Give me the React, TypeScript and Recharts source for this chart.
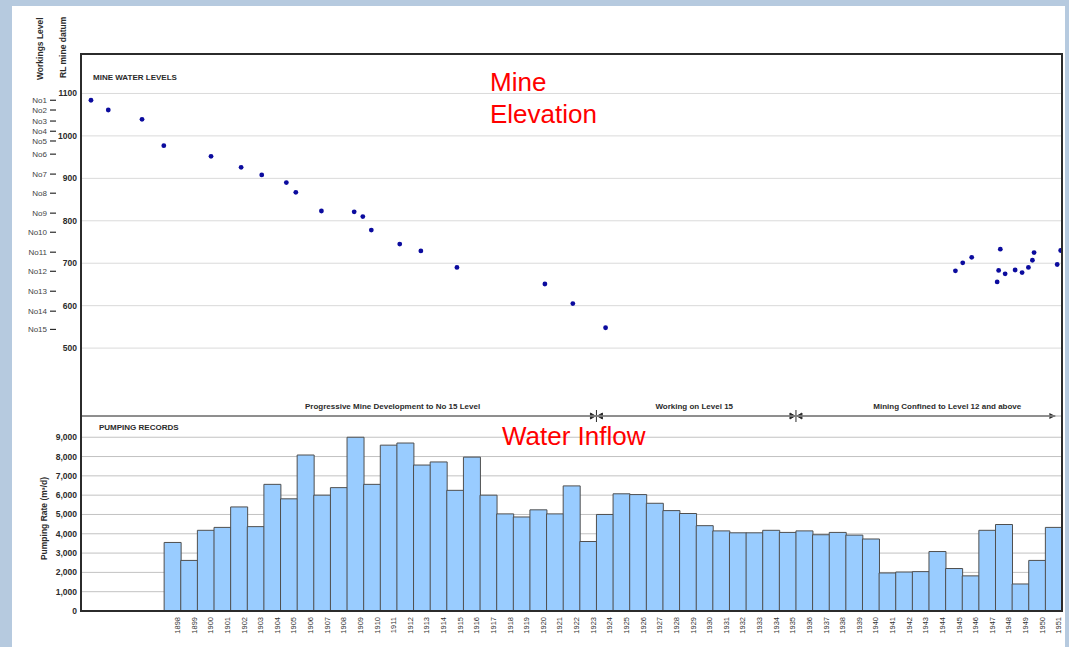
import React from 'react'
import {
  Bar,
  BarChart,
  CartesianGrid,
  ReferenceDot,
  ReferenceLine,
  Scatter,
  ScatterChart,
  XAxis,
  YAxis,
} from 'recharts'

// --- mine water levels (decimal year, RL mine datum) ---
const levelYears = [
  1893.6, 1894.64, 1896.67, 1897.98, 1900.82, 1902.63, 1903.87, 1905.35, 1905.92, 1907.46,
  1909.43, 1909.95, 1910.46, 1912.17, 1913.44, 1915.61, 1920.9, 1922.58, 1924.55,
  1945.59, 1946.03, 1946.57, 1948.1, 1948.19, 1948.29, 1948.58, 1949.18, 1949.6, 1949.98,
  1950.22, 1950.32, 1951.71, 1951.92,
]
const levelRL = [
  1084, 1061, 1039, 977, 952, 926, 908, 890, 867, 823,
  821, 810, 778, 745, 729, 690, 651, 605, 548,
  682, 701, 714, 656, 683, 733, 675, 684, 678, 690,
  707, 725, 697, 730,
]
const rlTicks = [500, 600, 700, 800, 900, 1000, 1100]

// workings levels and their RL
const workingLevels = ['No1', 'No2', 'No3', 'No4', 'No5', 'No6', 'No7', 'No8', 'No9', 'No10', 'No11', 'No12', 'No13', 'No14', 'No15']
const workingLevelRL = [1084, 1061, 1035, 1011, 988, 957, 910, 865, 818, 773, 726, 681, 634, 587, 544]

// mining phases
const phaseBreaks = [1924, 1936]
const phaseEnd = 1951.6
const phaseLabels = ['Progressive Mine Development to No 15 Level', 'Working on Level 15', 'Mining Confined to Level 12 and above']
const phaseLabelYears = [1911.74, 1929.88, 1945.1]

// --- pumping records (m3/d) ---
const emptyYears = [1893, 1894, 1895, 1896, 1897]
const recordYears = [
  1898, 1899, 1900, 1901, 1902, 1903, 1904, 1905, 1906, 1907, 1908, 1909, 1910, 1911, 1912,
  1913, 1914, 1915, 1916, 1917, 1918, 1919, 1920, 1921, 1922, 1923, 1924, 1925, 1926, 1927,
  1928, 1929, 1930, 1931, 1932, 1933, 1934, 1935, 1936, 1937, 1938, 1939, 1940, 1941, 1942,
  1943, 1944, 1945, 1946, 1947, 1948, 1949, 1950, 1951,
]
const pumpingRates = [
  3550, 2620, 4180, 4330, 5390, 4370, 6560, 5810, 8080, 6000, 6390, 9000, 6560, 8590, 8700,
  7560, 7720, 6250, 7970, 6000, 5030, 4870, 5240, 5030, 6480, 3600, 5000, 6070, 6030, 5580,
  5200, 5050, 4420, 4150, 4050, 4050, 4180, 4070, 4150, 3950, 4070, 3930, 3730, 1970, 2020,
  2040, 3080, 2200, 1820, 4180, 4480, 1400, 2620, 4330,
]
const rateTicks = [0, 1000, 2000, 3000, 4000, 5000, 6000, 7000, 8000, 9000]

const waterLevels = levelYears.map((year, i) => ({ year, rl: levelRL[i] }))
const pumping = [
  ...emptyYears.map((year) => ({ year, rate: null as number | null })),
  ...recordYears.map((year, i) => ({ year, rate: pumpingRates[i] as number | null })),
]

const FONT = '"Liberation Sans", Arial, sans-serif'
const DARK = '#2b2b2b'
const RL = 'a-rl'
const LVL = 'b-lvl'

const LevelDot = (props: any) => <circle cx={props.cx} cy={props.cy} r={2.4} fill="#0b0b9e" />

const BreakMarker = (props: any) => {
  const { cx, cy } = props
  return (
    <g stroke={DARK} fill={DARK}>
      <line x1={cx} x2={cx} y1={cy - 6} y2={cy + 6} strokeWidth={1} />
      <polygon points={`${cx - 1},${cy} ${cx - 6},${cy - 3} ${cx - 6},${cy + 3}`} />
      <polygon points={`${cx + 1},${cy} ${cx + 6},${cy - 3} ${cx + 6},${cy + 3}`} />
    </g>
  )
}

const EndArrow = (props: any) => {
  const { cx, cy } = props
  return <polygon fill={DARK} points={`${cx},${cy} ${cx - 6},${cy - 3} ${cx - 6},${cy + 3}`} />
}

const YearTick = (props: any) => {
  const { x, y, payload } = props
  if (!recordYears.includes(payload.value)) return <g />
  const tx = x + 5
  return (
    <text
      x={tx}
      y={y}
      dy="0.35em"
      transform={`rotate(-90, ${tx}, ${y})`}
      textAnchor="end"
      fontSize={7.5}
      fontFamily={FONT}
      fill="#333"
    >
      {payload.value}
    </text>
  )
}

export default function App() {
  const axisTick = { fontSize: 8.5, fontWeight: 700, fill: DARK, fontFamily: FONT }
  return (
    <div style={{ position: 'absolute', left: 0, top: 0, width: 1069, height: 647, background: '#b6cadf', overflow: 'hidden', fontFamily: FONT }}>
      <div style={{ position: 'absolute', left: 12, top: 6, width: 1053, height: 641, background: '#ffffff' }} />

      <div style={{ position: 'absolute', left: 0, top: 0 }}>
        <ScatterChart width={1069} height={430} margin={{ top: 54, right: 7, bottom: 14, left: 0 }}>
          <CartesianGrid yAxisId={RL} vertical={false} stroke="#dadada" />
          <XAxis type="number" dataKey="year" domain={[1893, 1952]} hide allowDataOverflow />
          <YAxis
            yAxisId={RL}
            type="number"
            dataKey="rl"
            domain={[340, 1193]}
            ticks={rlTicks}
            interval={0}
            width={25}
            axisLine={false}
            tickLine={false}
            tickSize={0}
            tickMargin={4}
            tick={axisTick}
            allowDataOverflow
          />
          <YAxis
            yAxisId={LVL}
            type="number"
            domain={[340, 1193]}
            ticks={workingLevelRL}
            interval={0}
            width={56}
            axisLine={false}
            tickLine={{ stroke: DARK, strokeWidth: 1.2 }}
            tickSize={6}
            tickMargin={3}
            tickFormatter={(v: number) => workingLevels[workingLevelRL.indexOf(v)]}
            tick={{ fontSize: 8, fill: '#444', fontFamily: FONT }}
            allowDataOverflow
          />
          <Scatter yAxisId={RL} data={waterLevels} fill="#0b0b9e" shape={LevelDot} isAnimationActive={false} />
          <ReferenceLine
            yAxisId={RL}
            segment={[{ x: 1893, y: 340 }, { x: phaseEnd, y: 340 }]}
            stroke={DARK}
            strokeWidth={1.5}
          />
          {phaseBreaks.map((yr) => (
            <ReferenceDot key={yr} yAxisId={RL} x={yr} y={340} r={1} shape={BreakMarker} />
          ))}
          <ReferenceDot yAxisId={RL} x={phaseEnd} y={340} r={1} shape={EndArrow} />
          {phaseLabels.map((text, i) => (
            <ReferenceDot
              key={text}
              yAxisId={RL}
              x={phaseLabelYears[i]}
              y={340}
              r={0}
              fill="none"
              stroke="none"
              label={{ value: text, position: 'top', offset: 7, fontSize: 8, fontWeight: 700, fill: DARK, fontFamily: FONT }}
            />
          ))}
        </ScatterChart>
      </div>

      <div style={{ position: 'absolute', left: 0, top: 380 }}>
        <BarChart
          width={1069}
          height={267}
          data={pumping}
          margin={{ top: 36, right: 7, bottom: 0, left: 0 }}
          barCategoryGap={0}
          barGap={0}
        >
          <CartesianGrid vertical={false} stroke="#c2c2c2" />
          <XAxis dataKey="year" height={36} interval={0} axisLine={false} tickLine={false} tickSize={0} tickMargin={6} tick={<YearTick />} />
          <YAxis
            type="number"
            domain={[0, 10100]}
            ticks={rateTicks}
            interval={0}
            width={81}
            axisLine={false}
            tickLine={false}
            tickSize={0}
            tickMargin={4}
            tick={axisTick}
            tickFormatter={(v: number) => v.toLocaleString('en-US')}
            allowDataOverflow
            label={{ value: 'Pumping Rate (m³/d)', angle: -90, position: 'center', dx: 3, dy: 5, fontSize: 8.5, fontWeight: 700, fill: DARK, fontFamily: FONT }}
          />
          <Bar dataKey="rate" fill="#99ccff" stroke="#4f4f4f" strokeWidth={1} isAnimationActive={false} />
        </BarChart>
      </div>

      <svg width={1069} height={647} style={{ position: 'absolute', left: 0, top: 0, pointerEvents: 'none' }}>
        <rect x={81} y={54} width={981} height={557} fill="none" stroke={DARK} strokeWidth={2} />
        <g fontFamily={FONT} fontWeight={700} fontSize={8.5} fill={DARK}>
          <text x={43} y={80} transform="rotate(-90, 43, 80)">Workings Level</text>
          <text x={66} y={78} transform="rotate(-90, 66, 78)">RL mine datum</text>
          <text x={93} y={80} fontSize={8}>MINE WATER LEVELS</text>
          <text x={99} y={430} fontSize={8}>PUMPING RECORDS</text>
        </g>
        <g fontFamily={FONT} fontSize={26} fill="#ff0000">
          <text x={490} y={91}>Mine</text>
          <text x={490} y={123}>Elevation</text>
          <text x={502} y={445}>Water Inflow</text>
        </g>
      </svg>
    </div>
  )
}
